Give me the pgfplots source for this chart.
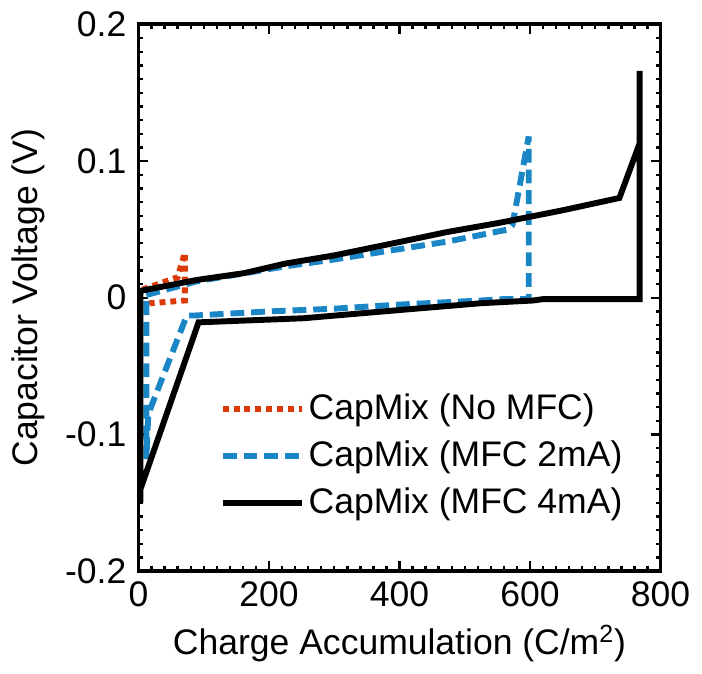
\documentclass[border=0pt]{standalone}
\usepackage{fontspec}
\setmainfont{Liberation Sans}
\usepackage{pgfplots}
\pgfplotsset{compat=1.18}
\definecolor{nomfc}{HTML}{DD3A0A}
\definecolor{mfctwo}{HTML}{1A86C6}

\begin{document}
\fontsize{18bp}{21bp}\selectfont
\begin{tikzpicture}
\begin{axis}[
  scale only axis,
  width=264.5bp, height=277bp,
  xmin=0, xmax=800, ymin=-0.2, ymax=0.2,
  xtick={0,200,...,800},
  ytick={-0.2,-0.1,0,0.1,0.2},
  yticklabels={-0.2,-0.1,0,0.1,0.2},
  minor x tick num=9, minor y tick num=9,
  tick align=inside,
  major tick length=5bp, minor tick length=2.5bp,
  every tick/.style={black, line width=1.2bp},
  axis line style={black, line width=2bp},
  /pgf/number format/assume math mode=true,
  tick label style={font=\fontsize{18bp}{21bp}\selectfont},
  label style={font=\fontsize{18bp}{21bp}\selectfont},
  xticklabel style={yshift=1bp},
  xlabel={Charge Accumulation (C/m\textsuperscript{2})},
  ylabel={Capacitor Voltage (V)},
  xlabel style={yshift=3bp},
  ylabel style={yshift=-2bp},
  legend style={at={(0.155,0.332)}, anchor=north west, draw=none, fill=none,
    font=\fontsize{18bp}{21bp}\selectfont, row sep=4bp, inner sep=0bp},
  legend cell align=left,
  legend image code/.code={\draw[#1] (0bp,0bp) -- (40bp,0bp);},
]
\addplot[nomfc, line width=3bp, dash pattern=on 3bp off 2.5bp] coordinates {
  (6,0.006) (60,0.015) (71,0.033) (71,-0.002) (18,-0.004) (12,-0.007)
};
\addplot[mfctwo, line width=3bp, dash pattern=on 7bp off 3.5bp] coordinates {
  (12,0.002) (89,0.012) (225,0.023) (300,0.028) (392,0.035) (472,0.041)
  (525,0.046) (567,0.050) (573,0.053) (598,0.118) (598,-0.001) (560,-0.001)
  (525,-0.002) (400,-0.005) (300,-0.008) (200,-0.010) (86,-0.013) (74,-0.013)
  (15,-0.085) (12,-0.118) (12,0.002)
};
\addplot[black, line width=3bp] coordinates {
  (3,0.005) (89,0.013) (162,0.018) (225,0.025) (300,0.031) (392,0.040)
  (472,0.048) (555,0.055) (650,0.064) (737,0.073) (768,0.113) (768,0.166)
  (768,-0.001) (620,-0.001) (605,-0.002) (525,-0.004) (400,-0.009)
  (253,-0.015) (92,-0.018) (3,-0.140) (3,-0.150) (3,0.005)
};
\legend{CapMix (No MFC), CapMix (MFC 2mA), CapMix (MFC 4mA)}
\end{axis}
\end{tikzpicture}
\end{document}
